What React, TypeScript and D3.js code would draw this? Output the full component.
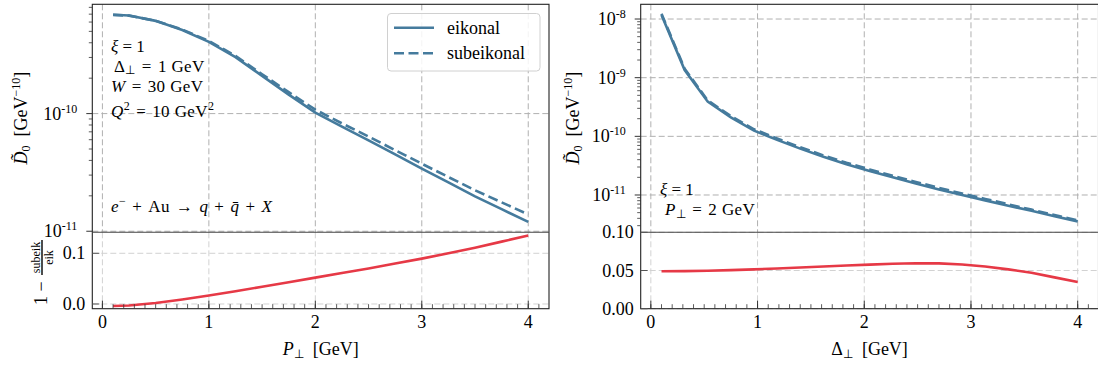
import React from 'react';
import * as d3 from 'd3';

// left: vs P_perp (Delta_perp = 1 GeV)
const pPerp = [0.1, 0.25, 0.5, 0.75, 1.0, 1.25, 1.5, 1.75, 2.0, 2.25, 2.5, 2.75, 3.0, 3.25, 3.5, 3.75, 4.0];
const eikP = [6.93e-10, 6.82e-10, 6.14e-10, 5.13e-10, 4.07e-10, 3.02e-10, 2.09e-10, 1.45e-10, 1.02e-10, 7.76e-11, 5.93e-11, 4.5e-11, 3.41e-11, 2.6e-11, 1.98e-11, 1.54e-11, 1.2e-11];
const subP = [6.9e-10, 6.8e-10, 6.15e-10, 5.18e-10, 4.14e-10, 3.1e-10, 2.16e-10, 1.52e-10, 1.08e-10, 8.26e-11, 6.38e-11, 4.89e-11, 3.75e-11, 2.89e-11, 2.23e-11, 1.76e-11, 1.39e-11];
const ratioP = [-0.004, -0.003, 0.002, 0.009, 0.0166, 0.025, 0.034, 0.043, 0.052, 0.061, 0.07, 0.08, 0.0895, 0.1, 0.111, 0.123, 0.135];

// right: vs Delta_perp (P_perp = 2 GeV)
const deltaPerp = [0.1, 0.317, 0.533, 0.75, 0.967, 1.183, 1.4, 1.617, 1.833, 2.05, 2.267, 2.483, 2.7, 2.917, 3.133, 3.35, 3.567, 3.783, 4.0];
const eikD = [1.17e-8, 1.35e-9, 3.9e-10, 2.1e-10, 1.25e-10, 8.7e-11, 6.17e-11, 4.47e-11, 3.35e-11, 2.57e-11, 2.0e-11, 1.57e-11, 1.24e-11, 1.0e-11, 8.1e-12, 6.58e-12, 5.37e-12, 4.35e-12, 3.55e-12];
const subD = [1.23e-8, 1.42e-9, 4.1e-10, 2.21e-10, 1.32e-10, 9.18e-11, 6.52e-11, 4.73e-11, 3.55e-11, 2.73e-11, 2.13e-11, 1.67e-11, 1.32e-11, 1.06e-11, 8.57e-12, 6.94e-12, 5.63e-12, 4.54e-12, 3.68e-12];
const ratioD = [0.049, 0.0492, 0.0497, 0.0505, 0.0515, 0.0527, 0.054, 0.0552, 0.0565, 0.0577, 0.0588, 0.0595, 0.0593, 0.0578, 0.0552, 0.0515, 0.047, 0.041, 0.035];

const xTicks = [0, 1, 2, 3, 4];
const ratioTicksP = [0.0, 0.1];
const ratioTicksD = [0.0, 0.05, 0.1];

const FONT = '"Liberation Serif", "Times New Roman", serif';
const FS = 18;
const SS = 12; // sub/superscript size
const BLUE = '#457b9d';
const RED = '#e63946';
const TOP0 = 4.3, TOP1 = 232.3, BOT1 = 308.7;
const EQ = '\u2004=\u2004';
const PL = '\u2004+\u2004';

function Panel(props: any) {
  const { x0, x1, xs, eik, sub, ratio, logLo, logHi, rLo, rHi, rTicks, rFmt, yLab, xLabel } = props;
  const x = d3.scaleLinear().domain([-0.095, 4.195]).range([x0, x1]);
  const yT = d3.scaleLog().domain([Math.pow(10, logLo), Math.pow(10, logHi)]).range([TOP1, TOP0]);
  const yB = d3.scaleLinear().domain([rLo, rHi]).range([BOT1, TOP1]);
  const lineT = d3.line<number>().x((d, i) => x(xs[i])).y(d => yT(d));
  const lineB = d3.line<number>().x((d, i) => x(xs[i])).y(d => yB(d));

  const decades = d3.range(Math.ceil(logLo), Math.floor(logHi) + 1);
  const minors: number[] = [];
  for (let k = Math.floor(logLo); k <= Math.ceil(logHi); k++) {
    for (let m = 2; m <= 9; m++) {
      const v = m * Math.pow(10, k);
      if (Math.log10(v) > logLo && Math.log10(v) < logHi) minors.push(v);
    }
  }
  const xMinor = d3.range(0, 42).map(i => i / 10).filter(v => v < 4.195);

  return (
    <g>
      {/* grid */}
      {xTicks.map(t => (
        <line key={'gv' + t} x1={x(t)} x2={x(t)} y1={TOP0} y2={TOP1} stroke="#b0b0b0" strokeDasharray="6,3" />
      ))}
      {decades.map(k => (
        <line key={'gh' + k} x1={x0} x2={x1} y1={yT(Math.pow(10, k))} y2={yT(Math.pow(10, k))} stroke="#b0b0b0" strokeDasharray="6,3" />
      ))}
      {xTicks.map(t => (
        <line key={'bv' + t} x1={x(t)} x2={x(t)} y1={TOP1} y2={BOT1} stroke="#d2d2d2" strokeDasharray="6,3" />
      ))}
      {rTicks.map((t: number) => (
        <line key={'bh' + t} x1={x0} x2={x1} y1={yB(t)} y2={yB(t)} stroke="#d2d2d2" strokeDasharray="6,3" />
      ))}

      {/* curves */}
      <path d={lineT(eik) || ''} fill="none" stroke={BLUE} strokeWidth={2.6} />
      <path d={lineT(sub) || ''} fill="none" stroke={BLUE} strokeWidth={2.6} strokeDasharray="10,4.5" />
      <path d={lineB(ratio) || ''} fill="none" stroke={RED} strokeWidth={2.6} />

      {/* spines */}
      <rect x={x0} y={TOP0} width={x1 - x0} height={BOT1 - TOP0} fill="none" stroke="#222" strokeWidth={1.1} />
      <line x1={x0} x2={x1} y1={TOP1} y2={TOP1} stroke="#444" strokeWidth={1.1} />

      {/* top y ticks (outward, log) */}
      {decades.map(k => (
        <g key={'yt' + k}>
          <line x1={x0 - 6} x2={x0} y1={yT(Math.pow(10, k))} y2={yT(Math.pow(10, k))} stroke="#333" />
          <text x={x0 - 15} y={yT(Math.pow(10, k)) + 6} textAnchor="end" fontSize={FS}>
            10<tspan fontSize={SS} dy={-7}>{'-' + Math.abs(k)}</tspan>
          </text>
        </g>
      ))}
      {minors.map((v, i) => (
        <line key={'ym' + i} x1={x0 - 3.5} x2={x0} y1={yT(v)} y2={yT(v)} stroke="#333" strokeWidth={0.8} />
      ))}

      {/* bottom y ticks (inward) */}
      {rTicks.map((t: number) => (
        <g key={'yb' + t}>
          <line x1={x0} x2={x0 + 7} y1={yB(t)} y2={yB(t)} stroke="#555" />
          <text x={x0 - 7} y={yB(t) + 6} textAnchor="end" fontSize={FS}>{rFmt(t)}</text>
        </g>
      ))}

      {/* bottom x ticks (inward) */}
      {xTicks.map(t => (
        <g key={'xt' + t}>
          <line x1={x(t)} x2={x(t)} y1={BOT1} y2={BOT1 - 8} stroke="#333" />
          <text x={x(t)} y={328} textAnchor="middle" fontSize={FS}>{t}</text>
        </g>
      ))}
      {xMinor.map((v, i) => (
        <line key={'xm' + i} x1={x(v)} x2={x(v)} y1={BOT1} y2={BOT1 - 4.5} stroke="#333" strokeWidth={0.8} />
      ))}

      {/* axis labels */}
      <text transform={`translate(${yLab},118) rotate(-90)`} textAnchor="middle" fontSize={FS}>
        <tspan fontStyle="italic">{'D\u0303'}</tspan>
        <tspan fontSize={SS} dy={3}>0</tspan>
        <tspan dy={-3}>{'\u2002[GeV'}</tspan>
        <tspan fontSize={SS} dy={-7}>{'\u221210'}</tspan>
        <tspan dy={7}>]</tspan>
      </text>
      <text x={(x0 + x1) / 2} y={355} textAnchor="middle" fontSize={FS}>
        {xLabel}
      </text>
    </g>
  );
}

export default function App() {
  return (
    <svg width={1098} height={367} style={{ position: 'absolute', left: 0, top: 0, background: '#fff' }} fontFamily={FONT}>
      <Panel
        x0={92.3} x1={549} xs={pPerp} eik={eikP} sub={subP} ratio={ratioP}
        logLo={-11.009} logHi={-9.071} rLo={-0.0093} rHi={0.1414}
        rTicks={ratioTicksP} rFmt={(t: number) => t.toFixed(1)} yLab={27}
        xLabel={<>
          <tspan fontStyle="italic">P</tspan>
          <tspan fontSize={SS} dy={3}>⊥</tspan>
          <tspan dy={-3}>{'\u2002[GeV]'}</tspan>
        </>}
      />
      <Panel
        x0={640.7} x1={1098.5} xs={deltaPerp} eik={eikD} sub={subD} ratio={ratioD}
        logLo={-11.636} logHi={-7.749} rLo={0} rHi={0.1}
        rTicks={ratioTicksD} rFmt={(t: number) => t.toFixed(2)} yLab={579}
        xLabel={<>
          <tspan>Δ</tspan>
          <tspan fontSize={SS} dy={3}>⊥</tspan>
          <tspan dy={-3}>{'\u2002[GeV]'}</tspan>
        </>}
      />

      {/* ratio label, left */}
      <g transform="translate(42,270) rotate(-90)">
        <text x={-35} y={5} fontSize={FS}>1 −</text>
        <line x1={-5} x2={30} y1={0} y2={0} stroke="#000" strokeWidth={1.4} />
        <text x={12.5} y={-2.5} textAnchor="middle" fontSize={SS}>subeik</text>
        <text x={12.5} y={10.5} textAnchor="middle" fontSize={SS}>eik</text>
      </g>

      {/* legend */}
      <g>
        <rect x={387.5} y={13.5} width={152.5} height={57.5} rx={3.5} fill="#fff" fillOpacity={0.85} stroke="#d0d0d0" />
        <line x1={394} x2={434} y1={27.7} y2={27.7} stroke={BLUE} strokeWidth={2.6} />
        <line x1={394} x2={434} y1={53.3} y2={53.3} stroke={BLUE} strokeWidth={2.6} strokeDasharray="10,4.5" />
        <text x={447} y={33.5} fontSize={18}>eikonal</text>
        <text x={447} y={59} fontSize={18}>subeikonal</text>
      </g>

      {/* annotations, left */}
      <g fontSize={17} letterSpacing={0.4}>
        <text x={111} y={52}><tspan fontStyle="italic">ξ</tspan>{'\u2009=\u20091'}</text>
        <text x={114} y={71.5}>
          Δ<tspan fontSize={11.5} dy={2.5}>⊥</tspan><tspan dy={-2.5}>{EQ + '1 GeV'}</tspan>
        </text>
        <text x={111} y={91.5}><tspan fontStyle="italic">W</tspan>{EQ + '30 GeV'}</text>
        <text x={111} y={117}>
          <tspan fontStyle="italic">Q</tspan><tspan fontSize={SS} dy={-7}>2</tspan>
          <tspan dy={7}>{EQ + '10 GeV'}</tspan><tspan fontSize={SS} dy={-7}>2</tspan>
        </text>
        <text x={111} y={212}>
          <tspan fontStyle="italic">e</tspan><tspan fontSize={SS} dy={-7}>−</tspan>
          <tspan dy={7}>{PL + 'Au\u2004→\u2004'}</tspan><tspan fontStyle="italic">q</tspan>
          <tspan>{PL}</tspan><tspan fontStyle="italic">{'q\u0304'}</tspan>
          <tspan>{PL}</tspan><tspan fontStyle="italic">X</tspan>
        </text>
      </g>

      {/* annotations, right */}
      <g fontSize={17} letterSpacing={0.4}>
        <text x={660} y={195}><tspan fontStyle="italic">ξ</tspan>{'\u2009=\u20091'}</text>
        <text x={665} y={215}>
          <tspan fontStyle="italic">P</tspan><tspan fontSize={11.5} dy={2.5}>⊥</tspan>
          <tspan dy={-2.5}>{EQ + '2 GeV'}</tspan>
        </text>
      </g>
    </svg>
  );
}
